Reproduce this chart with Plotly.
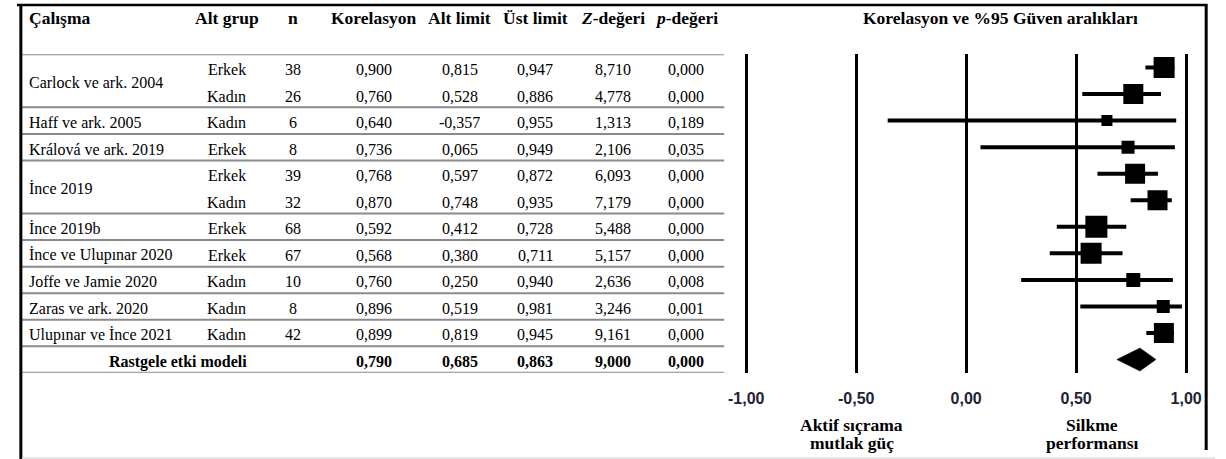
import plotly.graph_objects as go

# ---- data -------------------------------------------------------------
studies = ["Carlock ve ark. 2004", "Carlock ve ark. 2004", "Haff ve ark. 2005",
           "Králová ve ark. 2019", "İnce 2019", "İnce 2019", "İnce 2019b",
           "İnce ve Ulupınar 2020", "Joffe ve Jamie 2020", "Zaras ve ark. 2020",
           "Ulupınar ve İnce 2021"]
subgroups = ["Erkek", "Kadın", "Kadın", "Erkek", "Erkek", "Kadın", "Erkek",
             "Erkek", "Kadın", "Kadın", "Kadın"]
n_values = [38, 26, 6, 8, 39, 32, 68, 67, 10, 8, 42]
correlations = [0.900, 0.760, 0.640, 0.736, 0.768, 0.870, 0.592, 0.568, 0.760, 0.896, 0.899]
lower_limits = [0.815, 0.528, -0.357, 0.065, 0.597, 0.748, 0.412, 0.380, 0.250, 0.519, 0.819]
upper_limits = [0.947, 0.886, 0.955, 0.949, 0.872, 0.935, 0.728, 0.711, 0.940, 0.981, 0.945]
z_values = [8.710, 4.778, 1.313, 2.106, 6.093, 7.179, 5.488, 5.157, 2.636, 3.246, 9.161]
p_values = [0.000, 0.000, 0.189, 0.035, 0.000, 0.000, 0.000, 0.000, 0.008, 0.001, 0.000]

pooled_label = "Rastgele etki modeli"
pooled_r = 0.790
pooled_lower = 0.685
pooled_upper = 0.863
pooled_z = 9.000
pooled_p = 0.000

headers = ["Çalışma", "Alt grup", "n", "Korelasyon", "Alt limit", "Üst limit",
           "<i>Z</i>-değeri", "<i>p</i>-değeri"]
plot_title = "Korelasyon ve %95 Güven aralıkları"
tick_values = [-1.0, -0.5, 0.0, 0.5, 1.0]
tick_labels = ["-1,00", "-0,50", "0,00", "0,50", "1,00"]
left_caption = ["Aktif sıçrama", "mutlak güç"]
right_caption = ["Silkme", "performansı"]

# ---- styling / layout -------------------------------------------------
W, H = 1226, 459
box_px = [21, 20, 11, 13, 20, 20, 22, 21, 14, 13, 20]   # square sizes (study weight)
SERIF = "Liberation Serif"
SANS = "Liberation Sans"
ROW_PX = 26.55          # row pitch in pixels
col_x = [13, 217, 285, 367, 455, 532, 611, 686]   # column anchors (px)
table_right = 725


def px_x(p):
    return p / W


def px_y(p):
    return 1 - p / H


def fmt(v):
    return f"{v:.3f}".replace(".", ",")


n_rows = len(studies)
rows = list(range(n_rows))
pooled_row = n_rows

fig = go.Figure()

# confidence interval lines
fig.add_trace(go.Scatter(
    x=correlations, y=rows, mode="markers",
    marker=dict(size=1, color="rgba(0,0,0,0)"),
    error_x=dict(type="data", symmetric=False,
                 array=[u - r for u, r in zip(upper_limits, correlations)],
                 arrayminus=[r - l for r, l in zip(correlations, lower_limits)],
                 color="black", thickness=4, width=0),
    hoverinfo="skip", showlegend=False,
))

# weighted squares on top of the intervals
fig.add_trace(go.Scatter(
    x=correlations, y=rows, mode="markers",
    marker=dict(symbol="square", size=box_px, color="black", opacity=1,
                line=dict(width=0)),
    hoverinfo="skip", showlegend=False,
))

# pooled estimate diamond
half_h = 11.5 / ROW_PX
fig.add_trace(go.Scatter(
    x=[pooled_lower, pooled_r, pooled_upper, pooled_r, pooled_lower],
    y=[pooled_row, pooled_row - half_h, pooled_row, pooled_row + half_h, pooled_row],
    mode="lines", fill="toself", fillcolor="black",
    line=dict(color="black", width=0.5),
    hoverinfo="skip", showlegend=False,
))

annotations = []


def add_text(text, x_px, y, yref="y", size=16, anchor="center", bold=False, shift=0):
    annotations.append(dict(
        text=f"<b>{text}</b>" if bold else text,
        x=px_x(x_px), xref="paper", xanchor=anchor,
        y=y, yref=yref, yanchor="middle", yshift=shift,
        showarrow=False, font=dict(family=SERIF, size=size, color="black"),
    ))


# header row
header_y = px_y(18)
for i, h in enumerate(headers):
    add_text(h, col_x[i], header_y, yref="paper", size=17.5,
             anchor="left" if i == 0 else "center", bold=True)

# title over the forest plot
add_text(plot_title, 1007, header_y, yref="paper", size=17.5, bold=True)

TEXT_SHIFT = -2
# study rows
seen = {}
for i, s in enumerate(studies):
    seen.setdefault(s, []).append(i)
for s, idx in seen.items():
    add_text(s, col_x[0], sum(idx) / len(idx), anchor="left", shift=TEXT_SHIFT)
for i in rows:
    vals = [subgroups[i], str(n_values[i]), fmt(correlations[i]), fmt(lower_limits[i]),
            fmt(upper_limits[i]), fmt(z_values[i]), fmt(p_values[i])]
    for j, v in enumerate(vals):
        add_text(v, col_x[j + 1], i, shift=TEXT_SHIFT)

# pooled row
add_text(pooled_label, 167, pooled_row, bold=True, shift=TEXT_SHIFT)
for j, v in enumerate([pooled_r, pooled_lower, pooled_upper, pooled_z, pooled_p]):
    add_text(fmt(v), col_x[j + 3], pooled_row, bold=True, shift=TEXT_SHIFT)

# captions under the axis (two tight lines each)
for k, line in enumerate(left_caption):
    add_text(line, 855, px_y(425 + 18 * k), yref="paper", size=17.5, bold=True)
for k, line in enumerate(right_caption):
    add_text(line, 1100, px_y(425 + 18 * k), yref="paper", size=17.5, bold=True)

# table rule lines: under header, between studies, under pooled row
shapes = []
boundaries = [-0.5]
for s, idx in seen.items():
    boundaries.append(max(idx) + 0.5)
boundaries.append(pooled_row + 0.5)
for b in boundaries:
    shapes.append(dict(type="line", xref="paper", yref="y",
                       x0=px_x(8), x1=px_x(table_right), y0=b, y1=b,
                       line=dict(color="#8a8a8a", width=2)))

# outer frame
frame = dict(color="black", width=3)
shapes += [
    dict(type="line", xref="paper", yref="paper", x0=px_x(3), x1=px_x(1218),
         y0=px_y(5), y1=px_y(5), line=dict(color="black", width=2.5)),
    dict(type="line", xref="paper", yref="paper", x0=px_x(7), x1=px_x(7),
         y0=px_y(4), y1=px_y(459), line=frame),
    dict(type="line", xref="paper", yref="paper", x0=px_x(1217), x1=px_x(1217),
         y0=px_y(4), y1=px_y(450), line=frame),
    dict(type="line", xref="paper", yref="paper", x0=px_x(8), x1=px_x(1226),
         y0=px_y(458), y1=px_y(458), line=dict(color="#dedede", width=1.5)),
]

# axes: x = correlation scale, y = table rows
x_scale = 224.5  # px per unit
x_lo, x_hi = -1.02, 1.02
x0_px = 972 + x_lo * x_scale
x1_px = 972 + x_hi * x_scale
row0_px = 67.5
y_top_px = row0_px - 0.5 * ROW_PX
y_bot_px = row0_px + (pooled_row + 0.5) * ROW_PX

fig.update_layout(
    width=W, height=H,
    margin=dict(l=0, r=0, t=0, b=0),
    paper_bgcolor="white", plot_bgcolor="white",
    showlegend=False,
    xaxis=dict(domain=[px_x(x0_px), px_x(x1_px)], range=[x_lo, x_hi],
               tickmode="array", tickvals=tick_values,
               ticktext=[f"<b>{t}</b>" for t in tick_labels],
               tickfont=dict(family=SANS, size=16, color="#1c2434"),
               ticks="", ticklabelstandoff=14,
               showgrid=True, gridcolor="black", gridwidth=3,
               zeroline=False, showline=False, fixedrange=True),
    yaxis=dict(domain=[px_y(y_bot_px), px_y(y_top_px)],
               range=[pooled_row + 0.5, -0.5],
               showgrid=False, zeroline=False, showline=False,
               showticklabels=False, ticks="", fixedrange=True),
    annotations=annotations,
    shapes=shapes,
)

fig.write_html("out.html")
